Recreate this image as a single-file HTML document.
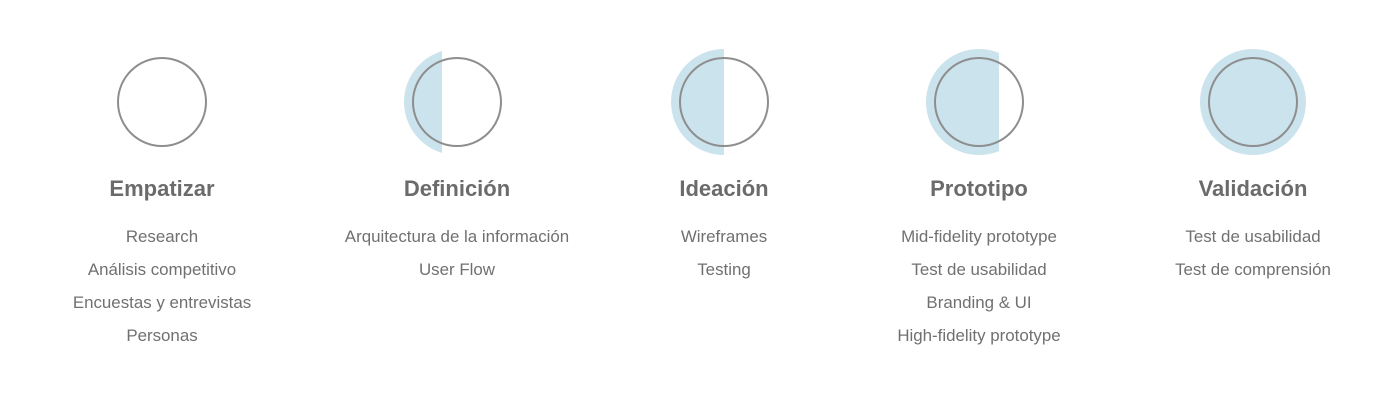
<!DOCTYPE html>
<html><head><meta charset="utf-8"><style>
body{margin:0;width:1385px;height:404px;background:#fff;overflow:hidden;font-family:"Liberation Sans",sans-serif;}
svg{position:absolute;left:0;top:0}
.t{font-size:22px;font-weight:bold;fill:#6b6b6b}
.i{font-size:16.9px;fill:#707070}
</style></head><body>
<svg width="1385" height="404" viewBox="0 0 1385 404">
<defs>
<clipPath id="c2"><rect x="0" y="0" width="442" height="404"/></clipPath>
<clipPath id="c3"><rect x="0" y="0" width="724" height="404"/></clipPath>
<clipPath id="c4"><rect x="0" y="0" width="999" height="404"/></clipPath>
</defs>
<g fill="#cbe3ed">
<circle cx="457" cy="102" r="53" clip-path="url(#c2)"/>
<circle cx="724" cy="102" r="53" clip-path="url(#c3)"/>
<circle cx="979" cy="102" r="53" clip-path="url(#c4)"/>
<circle cx="1253" cy="102" r="53"/>
</g>
<g fill="none" stroke="#8e8e8e" stroke-width="2">
<circle cx="162" cy="102" r="44"/>
<circle cx="457" cy="102" r="44"/>
<circle cx="724" cy="102" r="44"/>
<circle cx="979" cy="102" r="44"/>
<circle cx="1253" cy="102" r="44"/>
</g>
<g text-anchor="middle">
<text class="t" x="162" y="196">Empatizar</text>
<text class="i" x="162" y="242">Research</text>
<text class="i" x="162" y="275">Análisis competitivo</text>
<text class="i" x="162" y="308">Encuestas y entrevistas</text>
<text class="i" x="162" y="341">Personas</text>
<text class="t" x="457" y="196">Definición</text>
<text class="i" x="457" y="242">Arquitectura de la información</text>
<text class="i" x="457" y="275">User Flow</text>
<text class="t" x="724" y="196">Ideación</text>
<text class="i" x="724" y="242">Wireframes</text>
<text class="i" x="724" y="275">Testing</text>
<text class="t" x="979" y="196">Prototipo</text>
<text class="i" x="979" y="242">Mid-fidelity prototype</text>
<text class="i" x="979" y="275">Test de usabilidad</text>
<text class="i" x="979" y="308">Branding &amp; UI</text>
<text class="i" x="979" y="341">High-fidelity prototype</text>
<text class="t" x="1253" y="196">Validación</text>
<text class="i" x="1253" y="242">Test de usabilidad</text>
<text class="i" x="1253" y="275">Test de comprensión</text>
</g>
</svg>
</body></html>
